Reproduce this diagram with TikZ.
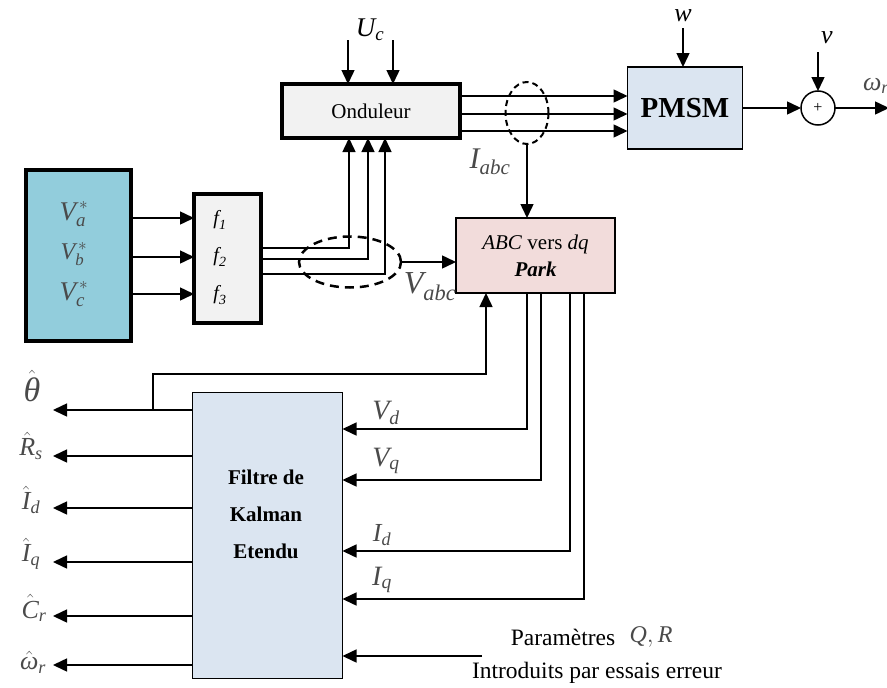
\documentclass[tikz,border=0pt]{standalone}
\usepackage{amsmath}
\usepackage{fontspec}
\setmainfont{Liberation Serif}
\usetikzlibrary{arrows.meta,shapes.geometric}
\definecolor{aqua}{HTML}{92CDDC}
\definecolor{lgray}{HTML}{F2F2F2}
\definecolor{lblue}{HTML}{DBE5F1}
\definecolor{lpink}{HTML}{F2DCDB}
\definecolor{lab}{HTML}{4A4A4A}
\newcommand\fs[1]{\fontsize{#1}{#1}\selectfont}
\newcommand\mi[1]{\textit{#1}}
\begin{document}
\begin{tikzpicture}[x=1pt,y=-1pt,
  arr/.style={-{Triangle[length=14pt,width=13pt]},line width=1.5pt},
  blk/.style={draw,rectangle,inner sep=0pt,outer sep=0pt},
  mlab/.style={inner sep=0pt,text=lab},
  blab/.style={inner sep=0pt,text=black}]
\useasboundingbox (0,0) rectangle (887,688);

% blocks
\node[blk,fill=lgray,line width=4pt,minimum width=178pt,minimum height=54pt,font=\fs{21}] (ond) at (371,111) {Onduleur};
\node[blk,fill=lblue,line width=1.5pt,minimum width=115pt,minimum height=82pt,font=\fs{29}\bfseries] (pmsm) at (685,108) {PMSM};
\node[circle,draw,line width=1.5pt,minimum size=34pt,inner sep=0pt,outer sep=0pt,font=\fs{16}] (sum) at (818,108) {+};
\node[blk,fill=aqua,line width=4pt,minimum width=105pt,minimum height=171pt] (vref) at (78.5,255.5) {};
\node[blk,fill=lgray,line width=4pt,minimum width=67pt,minimum height=129pt] (fbox) at (227.5,258.5) {};
\node[blk,fill=lpink,line width=2.5pt,minimum width=159pt,minimum height=75pt] (park) at (535.5,255.5) {};
\node[blk,fill=lblue,line width=1.5pt,minimum width=150pt,minimum height=286pt] (kal) at (267.5,535.5) {};

% texts in blocks
\node[blab,font=\fs{21},align=center] (parktxt) at (535.5,256) {\textit{ABC} vers \textit{dq}\\[6pt]\textbf{\textit{Park}}};
\node[blab,font=\fs{21}\bfseries,align=center] (kaltxt) at (266,514) {Filtre de\\[16pt]Kalman\\[16pt]Etendu};
\node[mlab,font=\fs{27}] (va) at (74,214) {$\mi{V}_{\mi{a}}^{\,*}$};
\node[mlab,font=\fs{24}] (vb) at (74,254) {$\mi{V}_{\mi{b}}^{\,*}$};
\node[mlab,font=\fs{27}] (vc) at (74,294) {$\mi{V}_{\mi{c}}^{\,*}$};
\node[blab,font=\fs{20}] (f1) at (220,220) {$\mi{f}_{\mi{1}}$};
\node[blab,font=\fs{20}] (f2) at (220,257) {$\mi{f}_{\mi{2}}$};
\node[blab,font=\fs{20}] (f3) at (220,295) {$\mi{f}_{\mi{3}}$};

% Uc arrows
\coordinate (uc1) at (348,40);
\coordinate (uc2) at (393,40);
\draw[arr] (uc1) -- (uc1 |- ond.north);
\draw[arr] (uc2) -- (uc2 |- ond.north);
\node[blab,font=\fs{27}] (uclab) at (370,30) {$\mi{U}_{\mi{c}}$};

% Onduleur -> PMSM
\foreach \y [count=\i] in {96,114,131} {
  \coordinate (ho\i) at (0,\y);
  \draw[arr] (ond.east |- ho\i) -- (pmsm.west |- ho\i);
}
\node[ellipse,draw,dash pattern=on 6pt off 4pt,line width=2pt,minimum width=43pt,minimum height=62pt,inner sep=0pt,outer sep=0pt] (iel) at (527,113) {};
\draw[arr] (iel.south) -- (iel.south |- park.north);
\node[mlab,font=\fs{30}] (ilab) at (490,162) {$\mi{I}_{\mi{abc}}$};

% PMSM -> sum
\draw[arr] (pmsm.east |- sum) -- (sum.west);
\coordinate (wt) at (683,28);
\draw[arr] (wt) -- (wt |- pmsm.north);
\node[blab,font=\fs{26}] (wlab) at (683,16) {\textit{w}};
\coordinate (vt) at (818,52);
\draw[arr] (vt) -- (sum.north);
\node[blab,font=\fs{26}] (vlab) at (827,38) {\textit{v}};
\coordinate (oend) at (889,108);
\draw[arr] (sum.east) -- (oend);
\node[mlab,font=\fs{26}] (wrlab) at (876,86) {$\mi{ω}_{\mi{r}}$};

% Vref -> f
\foreach \y [count=\i] in {218,257,294} {
  \coordinate (hv\i) at (0,\y);
  \draw[arr] (vref.east |- hv\i) -- (fbox.west |- hv\i);
}

% f -> Onduleur
\coordinate (p1) at (349,248);
\coordinate (p2) at (368,259);
\coordinate (p3) at (385,274);
\draw[arr] (fbox.east |- p1) -- (p1) -- (p1 |- ond.south);
\draw[arr] (fbox.east |- p2) -- (p2) -- (p2 |- ond.south);
\draw[arr] (fbox.east |- p3) -- (p3) -- (p3 |- ond.south);
\node[ellipse,draw,dash pattern=on 9pt off 6pt,line width=2.5pt,minimum width=102pt,minimum height=51pt,inner sep=0pt,outer sep=0pt] (vel) at (350,262) {};
\draw[arr] (vel.east) -- (vel.east -| park.west);
\node[mlab,font=\fs{32}] (vablab) at (430,287) {$\mi{V}_{\mi{abc}}$};

% Park -> Kalman
\coordinate (q1) at (527,429);
\coordinate (q2) at (541,480);
\coordinate (q3) at (570,551);
\coordinate (q4) at (584,599);
\draw[arr] (q1 |- park.south) -- (q1) -- (q1 -| kal.east);
\draw[arr] (q2 |- park.south) -- (q2) -- (q2 -| kal.east);
\draw[arr] (q3 |- park.south) -- (q3) -- (q3 -| kal.east);
\draw[arr] (q4 |- park.south) -- (q4) -- (q4 -| kal.east);
\node[mlab,font=\fs{28}] (vdlab) at (386,413) {$\mi{V}_{\mi{d}}$};
\node[mlab,font=\fs{28}] (vqlab) at (386,461) {$\mi{V}_{\mi{q}}$};
\node[mlab,font=\fs{26}] (idlab) at (382,535) {$\mi{I}_{\mi{d}}$};
\node[mlab,font=\fs{28}] (iqlab) at (382,580) {$\mi{I}_{\mi{q}}$};

% outputs of Kalman
\foreach \y [count=\i] in {410,456,508,562,616,665} {
  \coordinate (oL\i) at (53,\y);
  \draw[arr] (kal.west |- oL\i) -- (oL\i);
}
\coordinate (th) at (153,410);
\coordinate (fb) at (486,374);
\draw[arr] (th) |- (fb) -- (fb |- park.south);
\node[mlab,font=\fs{34}] (thlab) at (32,386) {$\hat{\mi{θ}}$};
\node[mlab,font=\fs{26}] (rlab) at (31,446) {$\hat{\mi{R}}_{\mi{s}}$};
\node[mlab,font=\fs{26}] (idh) at (31,500) {$\hat{\mi{I}}_{\mi{d}}$};
\node[mlab,font=\fs{26}] (iqh) at (31,554) {$\hat{\mi{I}}_{\mi{q}}$};
\node[mlab,font=\fs{26}] (crh) at (34,608) {$\hat{\mi{C}}_{\mi{r}}$};
\node[mlab,font=\fs{26}] (wrh) at (33,662) {$\hat{\mi{ω}}_{\mi{r}}$};

% parameters
\coordinate (pa) at (482,656);
\draw[arr] (pa) -- (pa -| kal.east);
\node[blab,font=\fs{23.5}] (partxt) at (563,637) {Paramètres};
\node[mlab,font=\fs{24}] (qr) at (651,637) {$\mi{Q}, \mi{R}$};
\node[blab,font=\fs{23.5}] (intro) at (597,673) {Introduits par essais erreur};
\end{tikzpicture}
\end{document}
